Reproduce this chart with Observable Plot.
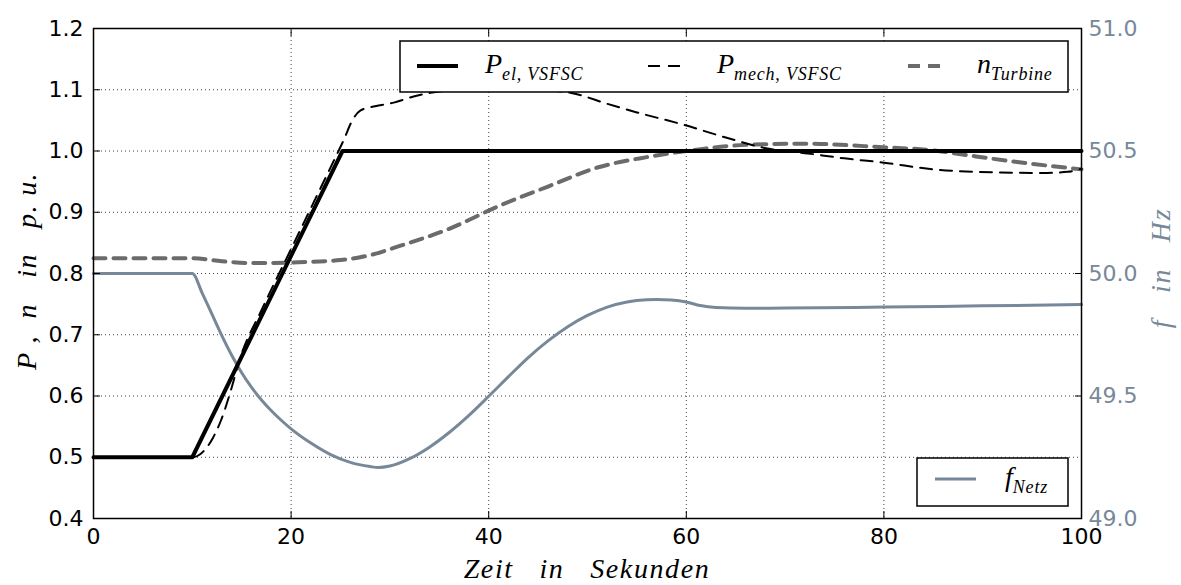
<!DOCTYPE html>
<html>
<head>
<meta charset="utf-8">
<script src="https://cdn.jsdelivr.net/npm/d3@7"></script>
<script src="https://cdn.jsdelivr.net/npm/@observablehq/plot@0.6"></script>
<style>
  body { margin: 0; background: #fff; }
  #chart svg { display: block; }
</style>
</head>
<body>
<div id="chart"></div>
<script>
// Time axis (seconds) and tick values
const xTicks = [0, 20, 40, 60, 80, 100];
const puTicks = [0.4, 0.5, 0.6, 0.7, 0.8, 0.9, 1.0, 1.1, 1.2];
const hzTicks = [49.0, 49.5, 50.0, 50.5, 51.0];

// Electrical power of the VSFSC (p.u.)
const tEl = [0, 10, 25.2, 100];
const pEl = [0.5, 0.5, 1.0, 1.0];

// Mechanical power of the VSFSC (p.u.)
const tMech = [0, 10, 10.8, 12.1, 12.9, 13.9, 14.8, 17, 20, 23, 24.5, 25.3, 26.2, 27, 28.5, 30.4, 32.4, 34.1, 37, 41, 45, 48.6, 52, 55, 59.7, 64, 68.2, 72.3, 76, 80, 85, 91.8, 96, 98.6, 100];
const pMech = [0.5, 0.5, 0.505, 0.532, 0.56, 0.609, 0.66, 0.74, 0.84, 0.94, 0.99, 1.017, 1.05, 1.066, 1.073, 1.079, 1.089, 1.095, 1.1, 1.103, 1.1, 1.094, 1.077, 1.063, 1.043, 1.022, 1.004, 0.996, 0.988, 0.981, 0.97, 0.965, 0.964, 0.966, 0.971];

// Turbine speed (p.u.)
const tTurb = [0, 10, 13, 16, 20, 25, 28, 31, 36, 41, 46, 51, 56, 60, 66, 72, 80, 85, 88.5, 93.5, 100];
const nTurb = [0.825, 0.825, 0.82, 0.817, 0.818, 0.822, 0.83, 0.845, 0.873, 0.91, 0.942, 0.973, 0.99, 1.0, 1.01, 1.012, 1.006, 1.001, 0.993, 0.982, 0.97];

// Grid frequency (Hz), right-hand axis
const tNetz = [0, 10, 11, 12, 13, 14, 15, 16, 17, 18, 19, 20, 22, 24, 26, 28, 28.8, 30, 32, 34, 36, 38, 40, 42, 44, 46, 48, 50, 52, 54, 56, 57, 58.5, 60, 61.4, 63, 66, 70, 80, 90, 100];
const fNetz = [50.0, 50.0, 49.92, 49.833, 49.745, 49.665, 49.595, 49.535, 49.484, 49.44, 49.401, 49.366, 49.308, 49.261, 49.229, 49.212, 49.208, 49.214, 49.244, 49.291, 49.351, 49.421, 49.499, 49.579, 49.657, 49.725, 49.783, 49.829, 49.863, 49.884, 49.893, 49.894, 49.892, 49.884, 49.869, 49.861, 49.858, 49.859, 49.863, 49.868, 49.873];

// The Hz axis shares the vertical extent of the p.u. axis: 49..51 Hz <-> 0.4..1.2 p.u.
const hzToPu = f => 0.4 + (f - 49) * 0.4;
const puToHz = v => 49 + (v - 0.4) / 0.4;

const rows = (t, v) => t.map((x, i) => ({t: x, v: v[i]}));
const elData = rows(tEl, pEl);
const mechData = rows(tMech, pMech);
const turbData = rows(tTurb, nTurb);
const netzData = rows(tNetz, fNetz.map(hzToPu));

const W = 1181, H = 585;
const SLATE = "#778899";
const GREY = "#6b6b6b";

const chart = Plot.plot({
  width: W,
  height: H,
  marginLeft: 93,
  marginRight: 100,
  marginTop: 28,
  marginBottom: 67,
  x: {domain: [0, 100]},
  y: {domain: [0.4, 1.2]},
  style: {fontFamily: "DejaVu Sans", fontSize: "22px", color: "#000", background: "#fff"},
  marks: [
    Plot.gridX(xTicks, {stroke: "#000", strokeOpacity: 0.75, strokeDasharray: "1,3"}),
    Plot.gridY(puTicks, {stroke: "#000", strokeOpacity: 0.75, strokeDasharray: "1,3"}),
    Plot.line(netzData, {x: "t", y: "v", stroke: SLATE, strokeWidth: 3, curve: "monotone-x"}),
    Plot.line(turbData, {x: "t", y: "v", stroke: GREY, strokeWidth: 4, strokeDasharray: "12,8", curve: "monotone-x"}),
    Plot.line(mechData, {x: "t", y: "v", stroke: "#000", strokeWidth: 2, strokeDasharray: "12,8", curve: "monotone-x"}),
    Plot.line(elData, {x: "t", y: "v", stroke: "#000", strokeWidth: 4}),
    Plot.frame({stroke: "#000", strokeWidth: 1.5}),
    Plot.axisX(xTicks, {anchor: "bottom", tickSize: -7, tickPadding: 17, label: null, tickFormat: d => String(d)}),
    Plot.axisX(xTicks, {anchor: "top", tickSize: -7, label: null, tickFormat: () => ""}),
    Plot.axisY(puTicks, {anchor: "left", tickSize: -7, tickPadding: 17, label: null, tickFormat: d3.format(".1f")}),
    Plot.axisY(hzTicks.map(hzToPu), {anchor: "right", tickSize: -7, tickPadding: 14, label: null, fill: SLATE, tickFormat: v => puToHz(v).toFixed(1)})
  ]
});

document.getElementById("chart").appendChild(chart);

// Axis titles and legends in math-style italic serif
const svg = d3.select(chart);
const SERIF = "'Liberation Serif', 'DejaVu Serif', serif";

function mathText(g, x, y, parts, opts = {}) {
  const t = g.append("text")
    .attr("x", x).attr("y", y)
    .attr("fill", opts.fill || "#000")
    .attr("text-anchor", opts.anchor || "start")
    .style("font-family", SERIF)
    .style("font-style", "italic")
    .style("font-size", (opts.size || 28) + "px")
    .style("letter-spacing", (opts.spacing || 0) + "px")
    .style("white-space", "pre");
  if (opts.transform) t.attr("transform", opts.transform);
  for (const p of parts) {
    const s = t.append("tspan").text(p.text);
    if (p.sub) s.attr("dy", 7).style("font-size", (opts.subSize || 18) + "px").style("letter-spacing", "0.8px");
  }
  return t;
}

mathText(svg, 587, 578, [{text: "Zeit   in   Sekunden"}], {anchor: "middle", size: 28, spacing: 1.6});
mathText(svg, 0, 0, [{text: "P ,  n   in   p. u."}], {anchor: "middle", size: 28, spacing: 1.4, transform: "translate(36,271) rotate(-90)"});
mathText(svg, 0, 0, [{text: "f   in   Hz"}], {anchor: "middle", size: 28, spacing: 1.6, fill: SLATE, transform: "translate(1170,268) rotate(-90)"});

// Upper legend: power and speed
const leg1 = svg.append("g");
leg1.append("rect").attr("x", 400).attr("y", 41).attr("width", 668).attr("height", 51)
  .attr("fill", "#fff").attr("stroke", "#000").attr("stroke-width", 1.5);
leg1.append("line").attr("x1", 417).attr("x2", 458).attr("y1", 66).attr("y2", 66)
  .attr("stroke", "#000").attr("stroke-width", 4);
mathText(leg1, 485, 73, [{text: "P"}, {text: "el, VSFSC", sub: true}]);
leg1.append("line").attr("x1", 648).attr("x2", 680).attr("y1", 66).attr("y2", 66)
  .attr("stroke", "#000").attr("stroke-width", 2).attr("stroke-dasharray", "12,8");
mathText(leg1, 717, 73, [{text: "P"}, {text: "mech, VSFSC", sub: true}]);
leg1.append("line").attr("x1", 908).attr("x2", 940).attr("y1", 66).attr("y2", 66)
  .attr("stroke", GREY).attr("stroke-width", 4).attr("stroke-dasharray", "12,8");
mathText(leg1, 977, 73, [{text: "n"}, {text: "Turbine", sub: true}]);

// Lower legend: grid frequency
const leg2 = svg.append("g");
leg2.append("rect").attr("x", 917).attr("y", 458).attr("width", 151).attr("height", 48)
  .attr("fill", "#fff").attr("stroke", "#000").attr("stroke-width", 1.5);
leg2.append("line").attr("x1", 935).attr("x2", 976).attr("y1", 479).attr("y2", 479)
  .attr("stroke", SLATE).attr("stroke-width", 3);
mathText(leg2, 1005, 486, [{text: "f"}, {text: "Netz", sub: true}]);
</script>
</body>
</html>
